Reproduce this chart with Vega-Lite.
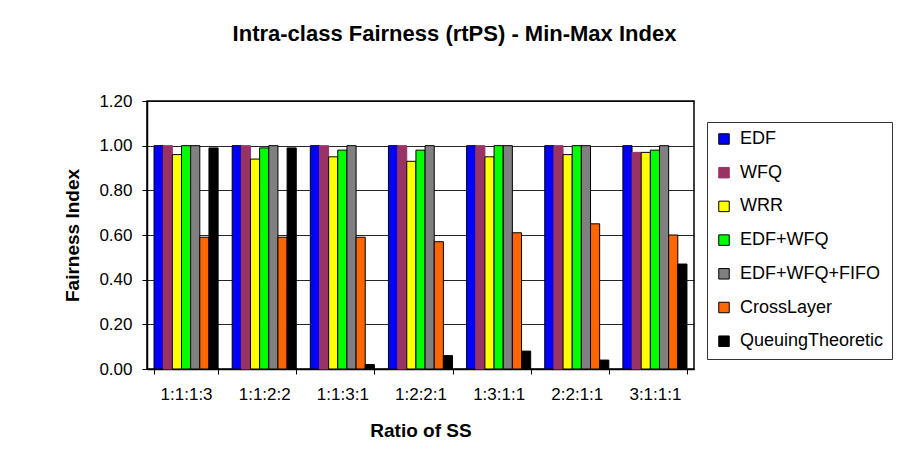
{
  "$schema": "https://vega.github.io/schema/vega-lite/v6.json",
  "width": 547,
  "height": 268,
  "autosize": "none",
  "padding": {"left": 147, "top": 101, "right": 212, "bottom": 103},
  "background": "white",
  "title": {
    "text": "Intra-class Fairness (rtPS) - Min-Max Index",
    "font": "Liberation Sans",
    "fontSize": 22,
    "fontWeight": "bold",
    "color": "black",
    "anchor": "middle",
    "frame": "group",
    "dx": 34,
    "offset": 46
  },
  "data": {
    "values": [
      {"ratio": "1:1:1:3", "series": "EDF", "value": 1.00},
      {"ratio": "1:1:1:3", "series": "WFQ", "value": 1.00},
      {"ratio": "1:1:1:3", "series": "WRR", "value": 0.96},
      {"ratio": "1:1:1:3", "series": "EDF+WFQ", "value": 1.00},
      {"ratio": "1:1:1:3", "series": "EDF+WFQ+FIFO", "value": 1.00},
      {"ratio": "1:1:1:3", "series": "CrossLayer", "value": 0.59},
      {"ratio": "1:1:1:3", "series": "QueuingTheoretic", "value": 0.99},
      {"ratio": "1:1:2:2", "series": "EDF", "value": 1.00},
      {"ratio": "1:1:2:2", "series": "WFQ", "value": 1.00},
      {"ratio": "1:1:2:2", "series": "WRR", "value": 0.94},
      {"ratio": "1:1:2:2", "series": "EDF+WFQ", "value": 0.99},
      {"ratio": "1:1:2:2", "series": "EDF+WFQ+FIFO", "value": 1.00},
      {"ratio": "1:1:2:2", "series": "CrossLayer", "value": 0.59},
      {"ratio": "1:1:2:2", "series": "QueuingTheoretic", "value": 0.99},
      {"ratio": "1:1:3:1", "series": "EDF", "value": 1.00},
      {"ratio": "1:1:3:1", "series": "WFQ", "value": 1.00},
      {"ratio": "1:1:3:1", "series": "WRR", "value": 0.95},
      {"ratio": "1:1:3:1", "series": "EDF+WFQ", "value": 0.98},
      {"ratio": "1:1:3:1", "series": "EDF+WFQ+FIFO", "value": 1.00},
      {"ratio": "1:1:3:1", "series": "CrossLayer", "value": 0.59},
      {"ratio": "1:1:3:1", "series": "QueuingTheoretic", "value": 0.02},
      {"ratio": "1:2:2:1", "series": "EDF", "value": 1.00},
      {"ratio": "1:2:2:1", "series": "WFQ", "value": 1.00},
      {"ratio": "1:2:2:1", "series": "WRR", "value": 0.93},
      {"ratio": "1:2:2:1", "series": "EDF+WFQ", "value": 0.98},
      {"ratio": "1:2:2:1", "series": "EDF+WFQ+FIFO", "value": 1.00},
      {"ratio": "1:2:2:1", "series": "CrossLayer", "value": 0.57},
      {"ratio": "1:2:2:1", "series": "QueuingTheoretic", "value": 0.06},
      {"ratio": "1:3:1:1", "series": "EDF", "value": 1.00},
      {"ratio": "1:3:1:1", "series": "WFQ", "value": 1.00},
      {"ratio": "1:3:1:1", "series": "WRR", "value": 0.95},
      {"ratio": "1:3:1:1", "series": "EDF+WFQ", "value": 1.00},
      {"ratio": "1:3:1:1", "series": "EDF+WFQ+FIFO", "value": 1.00},
      {"ratio": "1:3:1:1", "series": "CrossLayer", "value": 0.61},
      {"ratio": "1:3:1:1", "series": "QueuingTheoretic", "value": 0.08},
      {"ratio": "2:2:1:1", "series": "EDF", "value": 1.00},
      {"ratio": "2:2:1:1", "series": "WFQ", "value": 1.00},
      {"ratio": "2:2:1:1", "series": "WRR", "value": 0.96},
      {"ratio": "2:2:1:1", "series": "EDF+WFQ", "value": 1.00},
      {"ratio": "2:2:1:1", "series": "EDF+WFQ+FIFO", "value": 1.00},
      {"ratio": "2:2:1:1", "series": "CrossLayer", "value": 0.65},
      {"ratio": "2:2:1:1", "series": "QueuingTheoretic", "value": 0.04},
      {"ratio": "3:1:1:1", "series": "EDF", "value": 1.00},
      {"ratio": "3:1:1:1", "series": "WFQ", "value": 0.97},
      {"ratio": "3:1:1:1", "series": "WRR", "value": 0.97},
      {"ratio": "3:1:1:1", "series": "EDF+WFQ", "value": 0.98},
      {"ratio": "3:1:1:1", "series": "EDF+WFQ+FIFO", "value": 1.00},
      {"ratio": "3:1:1:1", "series": "CrossLayer", "value": 0.60},
      {"ratio": "3:1:1:1", "series": "QueuingTheoretic", "value": 0.47}
    ]
  },
  "mark": {"type": "bar", "strokeWidth": 1, "fillOpacity": 1},
  "encoding": {
    "x": {
      "field": "ratio",
      "type": "nominal",
      "sort": null,
      "scale": {"paddingInner": 0.18, "paddingOuter": 0.09},
      "axis": {
        "title": "Ratio of SS",
        "labelAngle": 0,
        "tickBand": "extent",
        "tickSize": 5,
        "labelPadding": 12,
        "titlePadding": 19
      }
    },
    "xOffset": {
      "field": "series",
      "type": "nominal",
      "sort": ["EDF", "WFQ", "WRR", "EDF+WFQ", "EDF+WFQ+FIFO", "CrossLayer", "QueuingTheoretic"],
      "scale": {"paddingInner": 0, "paddingOuter": 0}
    },
    "y": {
      "field": "value",
      "type": "quantitative",
      "scale": {"domain": [0, 1.2], "nice": false},
      "axis": {
        "title": "Fairness Index",
        "values": [0, 0.2, 0.4, 0.6, 0.8, 1.0, 1.2],
        "format": ".2f",
        "tickSize": 5,
        "labelPadding": 10,
        "titlePadding": 16,
        "grid": true
      }
    },
    "fill": {
      "field": "series",
      "type": "nominal",
      "sort": ["EDF", "WFQ", "WRR", "EDF+WFQ", "EDF+WFQ+FIFO", "CrossLayer", "QueuingTheoretic"],
      "scale": {
        "domain": ["EDF", "WFQ", "WRR", "EDF+WFQ", "EDF+WFQ+FIFO", "CrossLayer", "QueuingTheoretic"],
        "range": ["#0000FF", "#993366", "#FFFF00", "#00FF00", "#808080", "#FF6600", "#000000"]
      },
      "legend": {"title": null}
    },
    "stroke": {
      "field": "series",
      "type": "nominal",
      "sort": ["EDF", "WFQ", "WRR", "EDF+WFQ", "EDF+WFQ+FIFO", "CrossLayer", "QueuingTheoretic"],
      "scale": {
        "domain": ["EDF", "WFQ", "WRR", "EDF+WFQ", "EDF+WFQ+FIFO", "CrossLayer", "QueuingTheoretic"],
        "range": ["#000000", "#993366", "#000000", "#000000", "#000000", "#000000", "#000000"]
      },
      "legend": {"title": null}
    }
  },
  "config": {
    "font": "Liberation Sans",
    "view": {"stroke": "black", "strokeWidth": 1.5},
    "axis": {
      "labelFont": "Liberation Sans",
      "labelFontSize": 17,
      "labelColor": "black",
      "titleFont": "Liberation Sans",
      "titleFontSize": 19,
      "titleFontWeight": "bold",
      "titleColor": "black",
      "domainColor": "black",
      "domainWidth": 1.5,
      "tickColor": "black",
      "tickWidth": 1,
      "gridColor": "#000000",
      "gridWidth": 1,
      "gridOpacity": 0.85
    },
    "legend": {
      "orient": "none",
      "legendX": 560,
      "legendY": 21,
      "strokeColor": "#333333",
      "fillColor": "white",
      "padding": 8,
      "symbolType": "square",
      "symbolSize": 110,
      "symbolStrokeWidth": 1,
      "labelFont": "Liberation Sans",
      "labelFontSize": 18,
      "labelColor": "black",
      "labelOffset": 7,
      "rowPadding": 15.7,
      "labelLimit": 300
    }
  }
}
